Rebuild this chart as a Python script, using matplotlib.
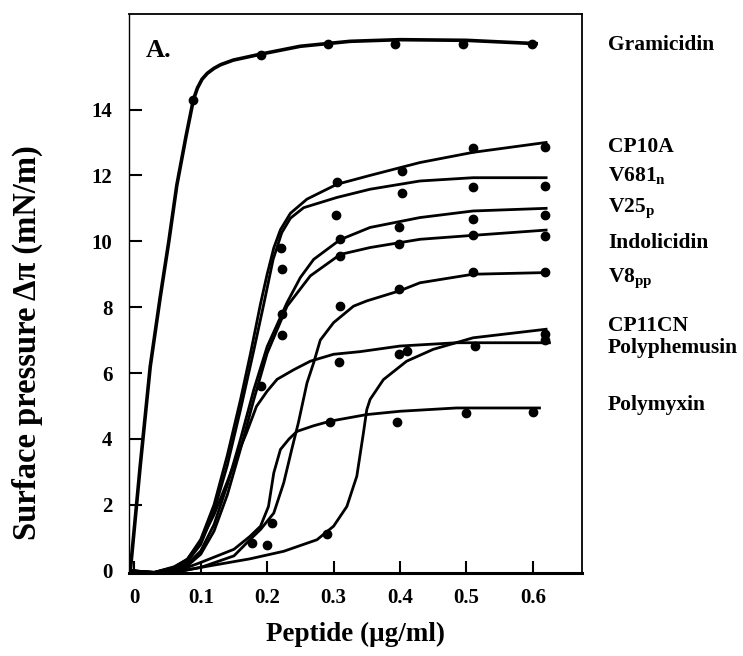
import matplotlib
matplotlib.use("Agg")
import matplotlib.pyplot as plt

# curves (x in ug/ml, y in mN/m)
gram_x = [-0.006, 0.009, 0.024, 0.039, 0.052, 0.064, 0.078, 0.089, 0.095, 0.102, 0.11, 0.12, 0.13, 0.149, 0.19, 0.25, 0.325, 0.40, 0.50, 0.605]
gram_y = [0.0, 3.2, 6.2, 8.3, 10.0, 11.7, 13.2, 14.3, 14.65, 14.92, 15.1, 15.25, 15.36, 15.5, 15.68, 15.92, 16.07, 16.12, 16.1, 16.0]
gram_px = [0.089, 0.19, 0.291, 0.392, 0.495, 0.598]
gram_py = [14.3, 15.65, 16.0, 16.0, 16.0, 16.0]

cp10a_x = [-0.006, 0.03, 0.06, 0.08, 0.10, 0.12, 0.14, 0.16, 0.175, 0.19, 0.20, 0.21, 0.22, 0.235, 0.26, 0.305, 0.355, 0.43, 0.51, 0.62]
cp10a_y = [0.0, -0.05, 0.1, 0.35, 0.95, 2.0, 3.5, 5.2, 6.6, 8.1, 9.0, 9.8, 10.35, 10.85, 11.28, 11.73, 12.0, 12.39, 12.7, 13.0]
cp10a_px = [0.221, 0.305, 0.403, 0.51, 0.618]
cp10a_py = [9.81, 11.81, 12.14, 12.82, 12.85]

v681_x = [-0.006, 0.03, 0.06, 0.08, 0.10, 0.12, 0.14, 0.16, 0.18, 0.195, 0.209, 0.222, 0.235, 0.255, 0.305, 0.355, 0.43, 0.51, 0.62]
v681_y = [0.0, -0.05, 0.08, 0.28, 0.8, 1.8, 3.2, 4.9, 6.7, 8.1, 9.45, 10.26, 10.7, 11.02, 11.33, 11.58, 11.83, 11.93, 11.93]
v681_px = [0.222, 0.304, 0.403, 0.51, 0.618]
v681_py = [9.15, 10.8, 11.48, 11.66, 11.68]

v25_x = [-0.006, 0.03, 0.06, 0.08, 0.10, 0.12, 0.14, 0.16, 0.18, 0.20, 0.23, 0.25, 0.27, 0.31, 0.355, 0.43, 0.51, 0.62]
v25_y = [0.0, -0.06, 0.05, 0.2, 0.6, 1.4, 2.6, 4.0, 5.5, 6.8, 8.14, 8.9, 9.45, 10.05, 10.42, 10.72, 10.92, 11.0]
v25_px = [0.222, 0.31, 0.398, 0.51, 0.618]
v25_py = [7.78, 10.06, 10.42, 10.67, 10.79]

indo_x = [-0.006, 0.03, 0.06, 0.08, 0.10, 0.12, 0.14, 0.16, 0.18, 0.20, 0.23, 0.265, 0.31, 0.355, 0.43, 0.51, 0.62]
indo_y = [0.0, -0.06, 0.03, 0.15, 0.5, 1.2, 2.3, 3.7, 5.2, 6.6, 8.03, 8.95, 9.6, 9.81, 10.06, 10.18, 10.34]
indo_px = [0.222, 0.31, 0.398, 0.51, 0.619]
indo_py = [7.14, 9.55, 9.93, 10.18, 10.16]

v8_x = [-0.006, 0.03, 0.06, 0.10, 0.15, 0.174, 0.19, 0.21, 0.225, 0.237, 0.247, 0.26, 0.27, 0.28, 0.30, 0.33, 0.35, 0.40, 0.43, 0.51, 0.62]
v8_y = [0.0, -0.08, -0.05, 0.1, 0.45, 0.94, 1.25, 1.75, 2.67, 3.68, 4.49, 5.7, 6.31, 7.0, 7.53, 8.03, 8.19, 8.5, 8.74, 9.0, 9.05]
v8_px = [0.207, 0.31, 0.398, 0.51, 0.619]
v8_py = [1.45, 8.05, 8.56, 9.07, 9.07]

cp11_x = [-0.006, 0.03, 0.06, 0.10, 0.174, 0.225, 0.275, 0.30, 0.32, 0.335, 0.345, 0.35, 0.355, 0.375, 0.41, 0.45, 0.51, 0.62]
cp11_y = [0.0, -0.08, -0.05, 0.1, 0.36, 0.59, 0.94, 1.35, 1.95, 2.87, 4.19, 4.89, 5.2, 5.8, 6.36, 6.72, 7.07, 7.33]
cp11_px = [0.29, 0.398, 0.618]
cp11_py = [1.12, 6.57, 7.2]

polyph_x = [-0.006, 0.03, 0.06, 0.08, 0.10, 0.12, 0.14, 0.155, 0.169, 0.184, 0.20, 0.215, 0.24, 0.265, 0.30, 0.34, 0.40, 0.485, 0.625]
polyph_y = [0.0, -0.05, 0.12, 0.35, 0.9, 1.7, 2.7, 3.5, 4.19, 4.99, 5.45, 5.81, 6.1, 6.36, 6.57, 6.65, 6.82, 6.92, 6.92]
polyph_px = [0.19, 0.308, 0.41, 0.513, 0.618]
polyph_py = [5.62, 6.33, 6.67, 6.82, 7.0]

polymx_x = [-0.006, 0.03, 0.06, 0.10, 0.15, 0.174, 0.19, 0.202, 0.21, 0.22, 0.233, 0.245, 0.27, 0.295, 0.35, 0.40, 0.485, 0.61]
polymx_y = [0.0, -0.08, -0.05, 0.25, 0.65, 1.04, 1.35, 1.95, 2.97, 3.68, 4.0, 4.23, 4.4, 4.54, 4.74, 4.84, 4.94, 4.94]
polymx_px = [0.177, 0.2, 0.294, 0.395, 0.5, 0.6]
polymx_py = [0.84, 0.77, 4.51, 4.51, 4.79, 4.81]

names = ["Gramicidin", "CP10A", "V681$_\\mathrm{n}$", "V25$_\\mathrm{p}$", "Indolicidin",
         "V8$_\\mathrm{pp}$", "CP11CN", "Polyphemusin", "Polymyxin"]
# baseline of each name, in data units
name_y = [15.8, 12.7, 11.83, 10.87, 9.81, 8.74, 7.27, 6.62, 4.89]

x_ticks = [0, 0.1, 0.2, 0.3, 0.4, 0.5, 0.6]
y_ticks = [0, 2, 4, 6, 8, 10, 12, 14]

plt.rcParams["font.family"] = ["Liberation Serif", "DejaVu Serif"]
plt.rcParams["font.weight"] = "bold"
plt.rcParams["mathtext.fontset"] = "custom"
plt.rcParams["mathtext.rm"] = "Liberation Serif:bold"

fig = plt.figure(figsize=(7.43, 6.56), dpi=100)
ax = fig.add_axes([0.1736, 0.1265, 0.6097, 0.8522])

curves = [
    (gram_x, gram_y, gram_px, gram_py, 2.6),
    (cp10a_x, cp10a_y, cp10a_px, cp10a_py, 2.0),
    (v681_x, v681_y, v681_px, v681_py, 2.0),
    (v25_x, v25_y, v25_px, v25_py, 2.0),
    (indo_x, indo_y, indo_px, indo_py, 2.0),
    (v8_x, v8_y, v8_px, v8_py, 2.0),
    (cp11_x, cp11_y, cp11_px, cp11_py, 2.0),
    (polyph_x, polyph_y, polyph_px, polyph_py, 2.0),
    (polymx_x, polymx_y, polymx_px, polymx_py, 2.0),
]
for cx, cy, px, py, lw in curves:
    ax.plot(cx, cy, color="black", linewidth=lw, solid_joinstyle="round")
    ax.plot(px, py, "o", color="black", markersize=6)

ax.set_xlim(-0.008, 0.674)
ax.set_ylim(-0.07, 16.9)
ax.set_xticks(x_ticks)
ax.set_xticklabels(["0", "0.1", "0.2", "0.3", "0.4", "0.5", "0.6"])
ax.set_yticks(y_ticks)
ax.tick_params(axis="both", direction="in", length=9, width=1.5, labelsize=15)
ax.tick_params(axis="x", pad=11)
ax.tick_params(axis="y", pad=12)
for lab in ax.get_xticklabels() + ax.get_yticklabels():
    lab.set_fontweight("bold")

ax.spines["left"].set_linewidth(1.0)
ax.spines["top"].set_linewidth(1.3)
ax.spines["right"].set_linewidth(1.3)
ax.spines["bottom"].set_linewidth(2.2)

ax.set_xlabel("Peptide (\u03bcg/ml)", fontsize=19.5, fontweight="bold", labelpad=10)
ax.set_ylabel("Surface pressure \u0394\u03c0 (mN/m)", fontsize=23.5, fontweight="bold")
ax.yaxis.set_label_coords(-0.19, 0.413)

ax.text(0.0165, 15.6, "A.", fontsize=19, fontweight="bold", ha="left", va="baseline")

for name, ny in zip(names, name_y):
    ax.text(0.713, ny, name, fontsize=15.5, fontweight="bold", ha="left", va="baseline",
            clip_on=False)

fig.savefig("out.png", dpi=100)
